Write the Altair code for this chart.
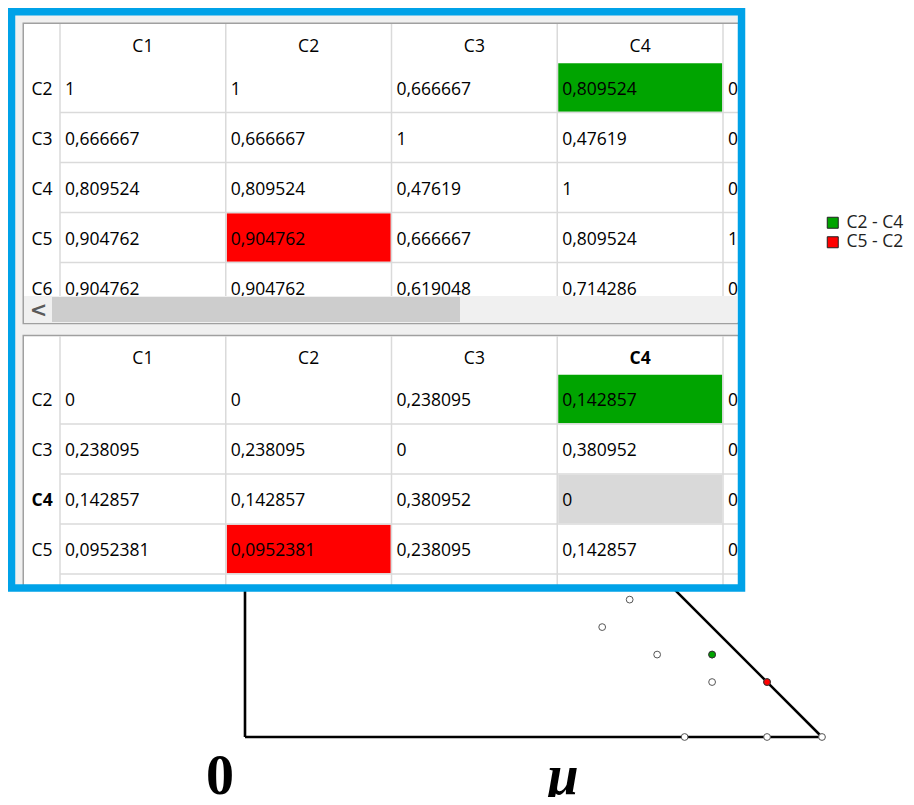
import altair as alt
import pandas as pd

# ---------------- data ----------------
columns = ["C1", "C2", "C3", "C4", "C5"]

sim_rows = ["C2", "C3", "C4", "C5", "C6"]
sim_table = [
    [1, 1, 0.666667, 0.809524, 0.904762],
    [0.666667, 0.666667, 1, 0.47619, 0.666667],
    [0.809524, 0.809524, 0.47619, 1, 0.809524],
    [0.904762, 0.904762, 0.666667, 0.809524, 1],
    [0.904762, 0.904762, 0.619048, 0.714286, 0.809524],
]

dist_rows = ["C2", "C3", "C4", "C5"]
dist_table = [
    [0, 0, 0.238095, 0.142857, 0.0952381],
    [0.238095, 0.238095, 0, 0.380952, 0.238095],
    [0.142857, 0.142857, 0.380952, 0, 0.142857],
    [0.0952381, 0.0952381, 0.238095, 0.142857, 0],
]

green_cell = ("C2", "C4")      # (row, column)
red_cell = ("C5", "C2")
current_cell = ("C4", "C4")    # selected cell of the lower table

point_sim = [0.666667, 0.619048, 0.714286, 0.809524, 0.809524, 0.904762, 0.761905, 0.904762, 1]
point_dist = [0.238095, 0.190476, 0.142857, 0.142857, 0.0952381, 0.0952381, 0, 0, 0]

pair_labels = ["C2 - C4", "C5 - C2"]
pair_sim = [0.809524, 0.904762]
pair_dist = [0.142857, 0.0952381]
pair_colors = ["#00a400", "#ff0000"]

triangle_x = [0, 1, 0, 0]
triangle_y = [0, 0, 1, 0]

axis_labels = ["0", "μ"]

# ---------------- layout ----------------
W, H = 898, 789
P0 = 8
px_x = alt.Scale(domain=[P0, P0 + W], nice=False, zero=False)
px_y = alt.Scale(domain=[P0, P0 + H], nice=False, zero=False, reverse=True)

ORIGIN = (245, 737)
UNIT = 577
tri_x = alt.Scale(domain=[(P0 - ORIGIN[0]) / UNIT, (P0 + W - ORIGIN[0]) / UNIT], nice=False, zero=False)
tri_y = alt.Scale(domain=[(ORIGIN[1] - P0 - H) / UNIT, (ORIGIN[1] - P0) / UNIT], nice=False, zero=False)

FONT = "Open Sans"
FS = 17.5
COL0 = 60.0
COLW = 165.75
ROWH = 50.0
TOP_ROW0 = 62.5
BOT_ROW0 = 374.0
TXT_DY = 2.0


def fmt(v):
    return f"{v:g}".replace(".", ",")


def col_left(i):
    return COL0 + i * COLW


def rect_layer(rows, **mark):
    df = pd.DataFrame(rows, columns=["x0", "x1", "y0", "y1"])
    return alt.Chart(df).mark_rect(**mark).encode(
        x=alt.X("x0:Q", scale=px_x, axis=None), x2="x1:Q",
        y=alt.Y("y0:Q", scale=px_y, axis=None), y2="y1:Q")


def rule_layer(rows, **mark):
    df = pd.DataFrame(rows, columns=["x0", "x1", "y0", "y1"])
    return alt.Chart(df).mark_rule(**mark).encode(
        x=alt.X("x0:Q", scale=px_x, axis=None), x2="x1:Q",
        y=alt.Y("y0:Q", scale=px_y, axis=None), y2="y1:Q")


def text_layer(rows, **mark):
    df = pd.DataFrame(rows, columns=["x", "y", "t"])
    props = dict(baseline="middle", font=FONT, fontSize=FS, color="#000")
    props.update(mark)
    return alt.Chart(df).mark_text(**props).encode(
        x=alt.X("x:Q", scale=px_x, axis=None),
        y=alt.Y("y:Q", scale=px_y, axis=None),
        text="t:N")


layers = []

# ---------- triangle plot ----------
tri_df = pd.DataFrame({"s": triangle_x, "d": triangle_y, "o": list(range(len(triangle_x)))})
layers.append(alt.Chart(tri_df).mark_line(color="#000", strokeWidth=2.6).encode(
    x=alt.X("s:Q", scale=tri_x, axis=None),
    y=alt.Y("d:Q", scale=tri_y, axis=None),
    order="o:Q"))

pts_df = pd.DataFrame({"s": point_sim, "d": point_dist})
layers.append(alt.Chart(pts_df).mark_circle(size=46, fill="white", stroke="#555", strokeWidth=1, opacity=1).encode(
    x=alt.X("s:Q", scale=tri_x, axis=None),
    y=alt.Y("d:Q", scale=tri_y, axis=None)))

pair_df = pd.DataFrame({"s": pair_sim, "d": pair_dist, "pair": pair_labels})
layers.append(alt.Chart(pair_df).mark_circle(size=46, stroke="#333", strokeWidth=1, opacity=1).encode(
    x=alt.X("s:Q", scale=tri_x, axis=None),
    y=alt.Y("d:Q", scale=tri_y, axis=None),
    fill=alt.Fill("pair:N", scale=alt.Scale(domain=pair_labels, range=pair_colors),
                  legend=alt.Legend(orient="none", legendX=816, legendY=206, title=None,
                                    symbolType="square", symbolSize=121, symbolStrokeColor="#222",
                                    symbolStrokeWidth=1, symbolOpacity=1, labelFont=FONT,
                                    labelFontSize=17.5, labelColor="#222", labelOffset=5,
                                    rowPadding=0.5, padding=0))))

lab_df = pd.DataFrame({"s": [(220 - ORIGIN[0]) / UNIT], "d": [(ORIGIN[1] - 794) / UNIT], "t": [axis_labels[0]]})
layers.append(alt.Chart(lab_df).mark_text(font="Liberation Serif", fontSize=56, fontWeight="bold",
                                          baseline="alphabetic", align="center", color="#000").encode(
    x=alt.X("s:Q", scale=tri_x, axis=None), y=alt.Y("d:Q", scale=tri_y, axis=None), text="t:N"))
mu_df = pd.DataFrame({"s": [(563 - ORIGIN[0]) / UNIT], "d": [(ORIGIN[1] - 794) / UNIT], "t": [axis_labels[1]]})
layers.append(alt.Chart(mu_df).mark_text(font="Liberation Serif", fontSize=56, fontWeight="bold",
                                         fontStyle="italic", baseline="alphabetic", align="center",
                                         color="#000").encode(
    x=alt.X("s:Q", scale=tri_x, axis=None), y=alt.Y("d:Q", scale=tri_y, axis=None), text="t:N"))

# ---------- screenshot panel ----------
layers.append(rect_layer([[15, 737, 15, 584]], fill="#f0f0f0"))
# table frames
layers.append(rect_layer([[23.25, 741, 23.25, 323.5]], fill="white", stroke="#a0a0a0", strokeWidth=1.5))
layers.append(rect_layer([[23.25, 741, 335.5, 590]], fill="white", stroke="#a0a0a0", strokeWidth=1.5))


def cell_rect(row_idx, col_idx, row0):
    top = row0 + row_idx * ROWH
    return [col_left(col_idx) + 1, col_left(col_idx) + COLW - 0.75, top + 0.75, top + ROWH - 0.75]


layers.append(rect_layer([cell_rect(sim_rows.index(green_cell[0]), columns.index(green_cell[1]), TOP_ROW0),
                          cell_rect(dist_rows.index(green_cell[0]), columns.index(green_cell[1]), BOT_ROW0)],
                         fill=pair_colors[0]))
layers.append(rect_layer([cell_rect(sim_rows.index(red_cell[0]), columns.index(red_cell[1]), TOP_ROW0),
                          cell_rect(dist_rows.index(red_cell[0]), columns.index(red_cell[1]), BOT_ROW0)],
                         fill=pair_colors[1]))
layers.append(rect_layer([cell_rect(dist_rows.index(current_cell[0]), columns.index(current_cell[1]), BOT_ROW0)],
                         fill="#d9d9d9"))

# grid lines
grid = []
for i in range(len(columns)):
    grid.append([col_left(i), col_left(i), 24, 296])
    grid.append([col_left(i), col_left(i), 336, 588])
for r in range(1, len(sim_rows)):
    y = TOP_ROW0 + r * ROWH
    grid.append([COL0, 741, y, y])
for r in range(1, len(dist_rows) + 1):
    y = BOT_ROW0 + r * ROWH
    grid.append([COL0, 741, y, y])
layers.append(rule_layer(grid, color="#dadada", strokeWidth=1.5))

# header texts
top_hdr = [[col_left(i) + COLW / 2, 44.5 + TXT_DY, c] for i, c in enumerate(columns)]
bot_hdr = [[col_left(i) + COLW / 2, 356.5 + TXT_DY, c] for i, c in enumerate(columns) if c != current_cell[1]]
bot_hdr_bold = [[col_left(i) + COLW / 2, 356.5 + TXT_DY, c] for i, c in enumerate(columns) if c == current_cell[1]]
layers.append(text_layer(top_hdr + bot_hdr, align="center"))
layers.append(text_layer(bot_hdr_bold, align="center", fontWeight="bold"))

# row headers
rh = [[31.5, TOP_ROW0 + r * ROWH + ROWH / 2 + TXT_DY, n] for r, n in enumerate(sim_rows)]
rh += [[31.5, BOT_ROW0 + r * ROWH + ROWH / 2 + TXT_DY, n] for r, n in enumerate(dist_rows) if n != current_cell[0]]
rh_bold = [[31.5, BOT_ROW0 + r * ROWH + ROWH / 2 + TXT_DY, n] for r, n in enumerate(dist_rows) if n == current_cell[0]]
layers.append(text_layer(rh, align="left"))
layers.append(text_layer(rh_bold, align="left", fontWeight="bold"))

# cell values
cells = []
for r, row in enumerate(sim_table):
    for c, v in enumerate(row):
        cells.append([col_left(c) + 5, TOP_ROW0 + r * ROWH + ROWH / 2 + TXT_DY, fmt(v)])
for r, row in enumerate(dist_table):
    for c, v in enumerate(row):
        cells.append([col_left(c) + 5, BOT_ROW0 + r * ROWH + ROWH / 2 + TXT_DY, fmt(v)])
layers.append(text_layer(cells, align="left"))

# scrollbar covers the partly hidden last row
layers.append(rect_layer([[24, 737, 296, 323]], fill="#f0f0f0"))
layers.append(rect_layer([[52, 460, 297, 322]], fill="#cdcdcd"))
layers.append(text_layer([[38.5, 310.5, "<"]], align="center", fontWeight="bold", fontSize=21,
                         font="DejaVu Sans", color="#5a5a5a"))

# page outside of the window clip
layers.append(rect_layer([[745, 826, P0, 592]], fill="white"))
# blue highlight border
layers.append(rect_layer([[11.5, 741.5, 11.75, 588]], filled=False, stroke="#00a2e8", strokeWidth=7.5))

chart = alt.layer(*layers).resolve_scale(x="independent", y="independent").properties(
    width=W, height=H, padding=0, autosize=alt.AutoSizeParams(type="none")
).configure_view(stroke=None)

chart.save("out.html", embed_options={"renderer": "svg", "actions": False})
